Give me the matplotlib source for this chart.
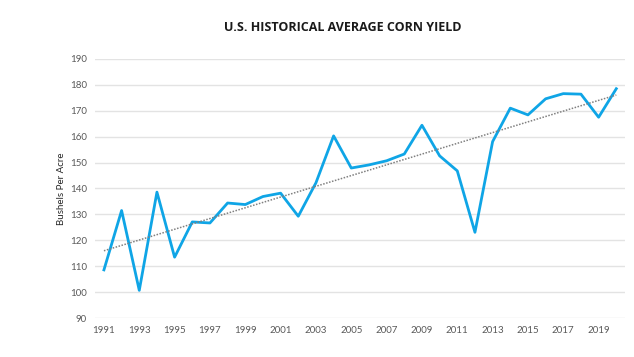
import numpy as np
import matplotlib
matplotlib.use("Agg")
import matplotlib.pyplot as plt

# US average corn yield, bushels per acre
years = list(range(1991, 2021))
yields = [108.6, 131.5, 100.7, 138.6, 113.5, 127.1, 126.7, 134.4, 133.8, 136.9,
          138.2, 129.3, 142.2, 160.3, 147.9, 149.1, 150.7, 153.3, 164.4, 152.6,
          146.8, 123.1, 158.1, 171.0, 168.4, 174.6, 176.6, 176.4, 167.5, 178.5]
tick_years = years[::2]
y_ticks = list(range(90, 200, 10))


def main():
    plt.rcParams['font.family'] = ['Lato', 'DejaVu Sans']
    fig = plt.figure(figsize=(6.34, 3.57), dpi=100)
    ax = fig.add_axes([0.150, 0.109, 0.836, 0.726])

    ax.plot(years, yields, color='#0FA5E6', linewidth=2, zorder=3)

    # linear trend line
    slope, intercept = np.polyfit(years, yields, 1)
    trend = [slope * y + intercept for y in years]
    ax.plot(years, trend, color='#808080', linestyle=(0, (1, 1)), linewidth=1.1, zorder=4)

    ax.set_xlim(1990.5, 2020.5)
    ax.set_ylim(90, 190)
    ax.set_yticks(y_ticks)
    ax.set_xticks(tick_years)
    ax.set_xticklabels([str(y) for y in tick_years])
    ax.grid(axis='y', color='#E3E3E3', linewidth=1, zorder=0)
    ax.tick_params(axis='both', length=0, labelsize=7, colors='#595959', pad=6)
    for s in ax.spines.values():
        s.set_visible(False)

    ax.set_ylabel("Bushels Per Acre", fontsize=7, color='#262626', labelpad=3)
    fig.text(0.540, 0.922, "U.S. HISTORICAL AVERAGE CORN YIELD", ha='center', va='center',
             fontsize=9, fontweight='bold', color='#1a1a1a', family=['Open Sans', 'DejaVu Sans'])

    fig.savefig("out.png", dpi=100, facecolor='white')


if __name__ == "__main__":
    main()
